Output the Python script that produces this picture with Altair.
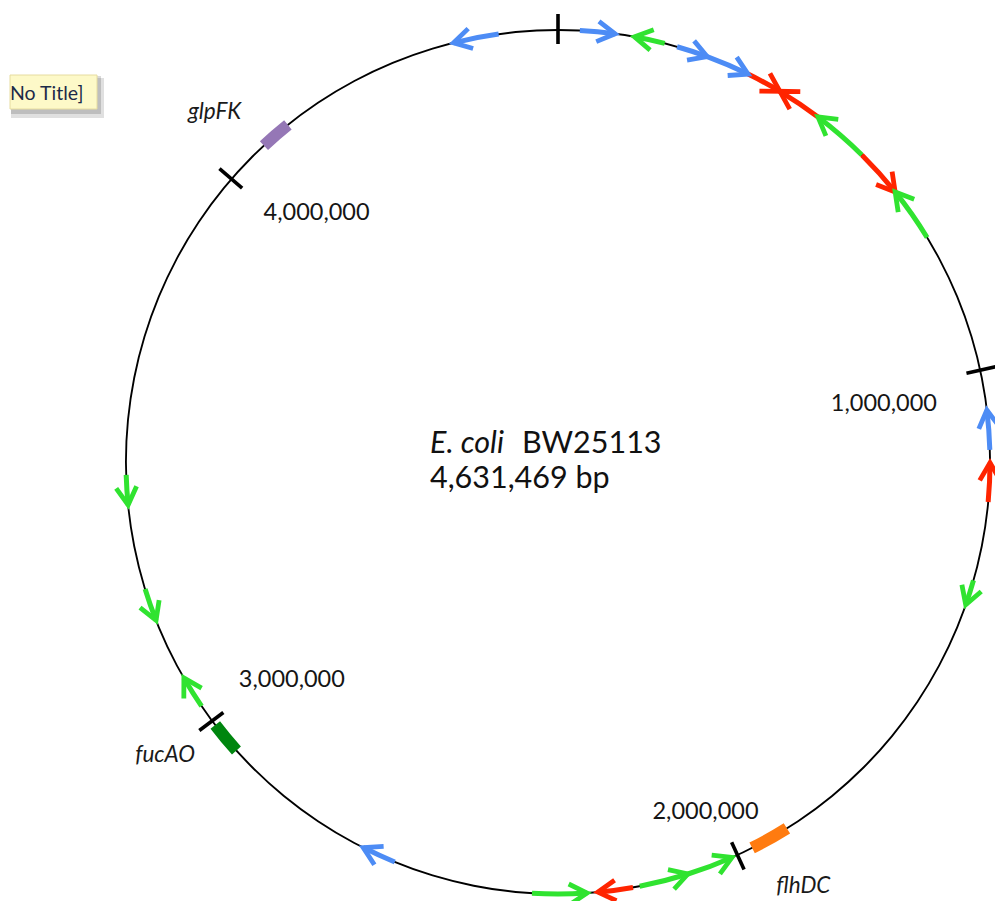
import altair as alt
import pandas as pd

# ---------------- data ----------------
GENOME_LEN = 4631469

arrow_tail = [4529840, 37310, 183970, 205840, 259880, 335780, 476010, 575070, 575070, 755190,
              1137280, 1226050, 1362430, 2090600, 2175510, 2187080, 2360120, 2601340,
              3031040, 3253610, 3451730]
arrow_tip = [4451360, 97780, 131230, 259880, 335780, 397540, 397540, 476010, 659990, 659990,
             1069100, 1159150, 1406170, 2010190, 2090600, 2247550, 2266210, 2660520,
             3087650, 3197000, 3400270]
arrow_class = ["blue", "blue", "green", "blue", "blue", "red", "red", "green", "red", "green",
               "blue", "red", "green", "green", "green", "red", "green", "blue",
               "green", "green", "green"]

gene_name = ["glpFK", "fucAO", "flhDC"]
gene_start = [4079600, 2934550, 1904050]
gene_end = [4133600, 2991160, 1972240]

tick_pos = [0, 1000000, 2000000, 3000000, 4000000]
tick_label = ["", "1,000,000", "2,000,000", "3,000,000", "4,000,000"]

title_line1_italic = "E. coli"
title_line1_rest = "BW25113"
title_line2 = "4,631,469 bp"
tooltip_text = "No Title]"

# ---------------- styling / layout ----------------
W, H = 987, 893
CX, CY, R = 550, 454, 432
FONT = "Lato"
arrow_colors = {"blue": "#4d8cf5", "green": "#30e330", "red": "#ff2400"}
gene_colors = ["#9577b6", "#00860f", "#ff7b10"]
gene_label_shift_deg = [-3.7, 3.0, -0.7]
gene_label_r = 490
tick_label_shift_deg = [0, 2.2, 1.7, -2.5, 5.0]
tick_label_r = [0, 331, 380, 344, 347]

XS = alt.Scale(domain=[0, W], nice=False, zero=False)
YS = alt.Scale(domain=[0, H], nice=False, zero=False, reverse=True)


def X(f):
    return alt.X(f, type="quantitative", scale=XS, axis=None)


def Y(f):
    return alt.Y(f, type="quantitative", scale=YS, axis=None)


L = GENOME_LEN
center_calc = dict(cx=str(CX), cy=str(CY))

# circle backbone
circle_df = pd.DataFrame({"s": [0], "e": [L]})
circle = alt.Chart(circle_df).transform_calculate(
    a0=f"datum.s / {L} * 2 * PI", a1=f"datum.e / {L} * 2 * PI", **center_calc
).mark_arc(radius=R + 1, radius2=R - 1, color="black").encode(
    x=X("cx"), y=Y("cy"),
    theta=alt.Theta("a0:Q", scale=None, stack=None), theta2="a1:Q",
)

# gene blocks
genes = pd.DataFrame({"name": gene_name, "start": gene_start, "end": gene_end,
                      "col": gene_colors, "shift": gene_label_shift_deg})
gene_blocks = alt.Chart(genes).transform_calculate(
    a0=f"datum.start / {L} * 2 * PI", a1=f"datum.end / {L} * 2 * PI", **center_calc
).mark_arc(radius=R + 6, radius2=R - 6).encode(
    x=X("cx"), y=Y("cy"),
    theta=alt.Theta("a0:Q", scale=None, stack=None), theta2="a1:Q",
    color=alt.Color("col:N", scale=None),
)
gene_labels = alt.Chart(genes).transform_calculate(
    a=f"(datum.start + datum.end) / 2 / {L} * 2 * PI + datum.shift * PI / 180"
).transform_calculate(
    lx=f"{CX} + {gene_label_r} * sin(datum.a)",
    ly=f"{CY} - {gene_label_r} * cos(datum.a)",
).mark_text(font=FONT, fontSize=22.5, fontStyle="italic", color="#1a1a1a",
            align="center", baseline="middle").encode(
    x=X("lx"), y=Y("ly"), text="name:N"
)

# arrows
arrows = pd.DataFrame({"tail": arrow_tail, "tip": arrow_tip,
                       "col": [arrow_colors[c] for c in arrow_class]})
shafts = alt.Chart(arrows).transform_calculate(
    a0=f"min(datum.tail, datum.tip) / {L} * 2 * PI",
    a1=f"max(datum.tail, datum.tip) / {L} * 2 * PI", **center_calc
).mark_arc(radius=R + 2.5, radius2=R - 2.5).encode(
    x=X("cx"), y=Y("cy"),
    theta=alt.Theta("a0:Q", scale=None, stack=None), theta2="a1:Q",
    color=alt.Color("col:N", scale=None),
)
heads = alt.Chart(arrows).transform_calculate(
    ta=f"datum.tip / {L} * 2 * PI"
).transform_calculate(
    hx=f"{CX} + {R} * sin(datum.ta)",
    hy=f"{CY} - {R} * cos(datum.ta)",
    ang="(datum.ta * 180 / PI + (datum.tip > datum.tail ? 90 : 270)) % 360",
).mark_point(shape="M -0.58 1 L 0 0 L 0.58 1", filled=False, strokeWidth=4.8,
             size=1250, opacity=1, strokeJoin="miter", strokeCap="butt").encode(
    x=X("hx"), y=Y("hy"),
    angle=alt.Angle("ang:Q", scale=None),
    color=alt.Color("col:N", scale=None),
)

# ticks
ticks_df = pd.DataFrame({"pos": tick_pos, "label": tick_label,
                         "shift": tick_label_shift_deg, "lr": tick_label_r})
tick_base = alt.Chart(ticks_df).transform_calculate(
    ta=f"datum.pos / {L} * 2 * PI"
)
ticks = tick_base.transform_calculate(
    x1=f"{CX} + {R - 14} * sin(datum.ta)", y1=f"{CY} - {R - 14} * cos(datum.ta)",
    x2=f"{CX} + {R + 16} * sin(datum.ta)", y2=f"{CY} - {R + 16} * cos(datum.ta)",
).mark_rule(color="black", strokeWidth=3.6).encode(
    x=X("x1"), y=Y("y1"), x2="x2:Q", y2="y2:Q"
)
tick_labels = tick_base.transform_filter("datum.label != ''").transform_calculate(
    la="datum.ta + datum.shift * PI / 180"
).transform_calculate(
    lx=f"{CX} + datum.lr * sin(datum.la)", ly=f"{CY} - datum.lr * cos(datum.la)",
).mark_text(font=FONT, fontSize=23.5, color="#151515", align="center",
            baseline="middle").encode(
    x=X("lx"), y=Y("ly"), text="label:N"
)

# centre title
t_df = pd.DataFrame({"t1": [title_line1_italic], "t2": [title_line1_rest], "t3": [title_line2]})
t_base = alt.Chart(t_df).transform_calculate(
    lx1=f"{CX} - 128", lx2=f"{CX} - 36", ly1=f"{CY} - 9", ly2=f"{CY} + 26"
)
title_a = t_base.mark_text(font=FONT, fontSize=30.5, fontStyle="italic", color="#111",
                           align="left", baseline="alphabetic").encode(
    x=X("lx1"), y=Y("ly1"), text="t1:N")
title_b = t_base.mark_text(font=FONT, fontSize=30.5, color="#111",
                           align="left", baseline="alphabetic").encode(
    x=X("lx2"), y=Y("ly1"), text="t2:N")
title_c = t_base.mark_text(font=FONT, fontSize=30.5, color="#111",
                           align="left", baseline="alphabetic").encode(
    x=X("lx1"), y=Y("ly2"), text="t3:N")

# tooltip-like box at top-left
tip_df = pd.DataFrame({"t": [tooltip_text]})
tip_base = alt.Chart(tip_df)
tip_shadow = tip_base.transform_calculate(
    x0="3", x1="96", y0="70", y1="110"
).mark_rect(color="#000", opacity=0.12).encode(
    x=X("x0"), x2="x1:Q", y=Y("y0"), y2="y1:Q")
tip_shadow2 = tip_base.transform_calculate(
    x0="3", x1="93", y0="68", y1="106"
).mark_rect(color="#000", opacity=0.15).encode(
    x=X("x0"), x2="x1:Q", y=Y("y0"), y2="y1:Q")
tip_box = tip_base.transform_calculate(
    x0="2", x1="89", y0="67", y1="101"
).mark_rect(color="#fdf9c8", stroke="#e6dca0", strokeWidth=1).encode(
    x=X("x0"), x2="x1:Q", y=Y("y0"), y2="y1:Q")
tip_text = tip_base.transform_calculate(
    tx="2", ty="92"
).mark_text(font=FONT, fontSize=19.5, color="#1c2a48", align="left",
            baseline="alphabetic").encode(x=X("tx"), y=Y("ty"), text="t:N")

chart = alt.layer(
    tip_shadow, tip_shadow2, tip_box, tip_text,
    circle, gene_blocks, shafts, heads, ticks,
    tick_labels, gene_labels, title_a, title_b, title_c,
).properties(
    width=W, height=H, padding=0, autosize="none", background="white"
).configure_view(stroke=None)

chart.save("out.html", embed_options={"renderer": "svg", "actions": False})
